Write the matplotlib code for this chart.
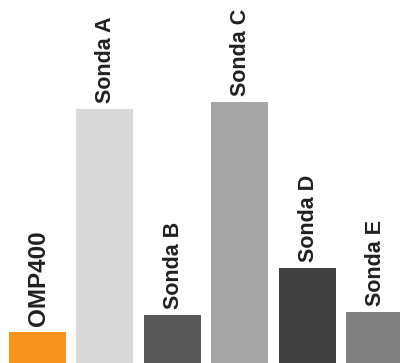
import matplotlib
matplotlib.use("Agg")
import matplotlib.pyplot as plt

labels = ["OMP400", "Sonda A", "Sonda B", "Sonda C", "Sonda D", "Sonda E"]
values = [31, 254, 48, 261, 95, 51]
colors = ["#F7941D", "#D9D9D9", "#595959", "#A6A6A6", "#404040", "#808080"]

fig = plt.figure(figsize=(4.0, 3.63), dpi=100)
ax = fig.add_axes([0, 0, 1, 1])

x = list(range(len(labels)))
ax.bar(x, values, width=0.846, color=colors)

# rotated labels sitting just above each bar
for i, (lab, v) in enumerate(zip(labels, values)):
    size = 17.5 if lab == "OMP400" else 15.5
    ax.annotate(lab, (i, v), xytext=(1, 6), textcoords="offset pixels",
                rotation=90, ha="center", va="bottom", fontsize=size,
                fontweight="bold", family="Liberation Sans", color="#231F20")

ax.set_xlim(-0.556, 5.378)
ax.set_ylim(0, 363)
ax.axis("off")

fig.savefig("out.png", dpi=100)
